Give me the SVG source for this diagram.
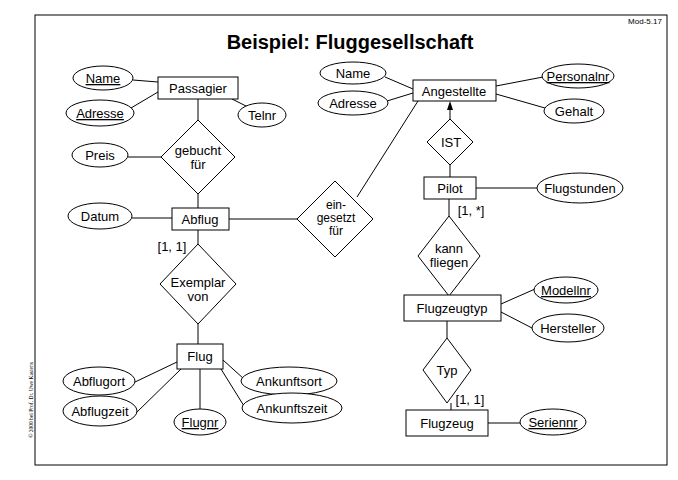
<svg xmlns="http://www.w3.org/2000/svg" width="678" height="480" viewBox="0 0 678 480">
<style>
text{font-family:"Liberation Sans",Arial,sans-serif;font-size:13px;fill:#000;text-anchor:middle}
.u{text-decoration:underline}
.s{font-size:12px}
rect,ellipse,polygon{fill:#fff;stroke:#000;stroke-width:1}
line{stroke:#000;stroke-width:1}
.ah{fill:#000;stroke:none}
</style>
<rect x="0" y="0" width="678" height="480" style="stroke:none"/>
<rect x="35" y="15" width="632" height="450"/>
<text x="350" y="49" style="font-size:20px;font-weight:bold">Beispiel: Fluggesellschaft</text>
<text x="645" y="24" style="font-size:8px">Mod-5.17</text>
<text transform="translate(33,400) rotate(-90)" style="font-size:5.5px;font-family:'Liberation Serif',serif">© 2000 bei Prof. Dr. Uwe Kastens</text>
<g id="connectors">
<line x1="133" y1="80" x2="158" y2="82"/>
<line x1="131" y1="108" x2="158" y2="92"/>
<line x1="232" y1="99" x2="248" y2="107"/>
<line x1="198" y1="99" x2="198" y2="120"/>
<line x1="128" y1="157" x2="161" y2="157"/>
<line x1="198" y1="194" x2="198" y2="208"/>
<line x1="132" y1="218" x2="172" y2="218"/>
<line x1="229" y1="219" x2="297" y2="219"/>
<line x1="357" y1="197" x2="418" y2="101"/>
<line x1="198" y1="230" x2="198" y2="244"/>
<line x1="198" y1="324" x2="198" y2="344"/>
<line x1="177" y1="362" x2="135" y2="382"/>
<line x1="181" y1="369" x2="136" y2="413"/>
<line x1="200" y1="369" x2="200" y2="409"/>
<line x1="223" y1="360" x2="244" y2="379"/>
<line x1="221" y1="369" x2="244" y2="406"/>
<line x1="385" y1="77" x2="413" y2="89"/>
<line x1="387" y1="101" x2="413" y2="93"/>
<line x1="496" y1="86" x2="543" y2="77"/>
<line x1="496" y1="94" x2="545" y2="108"/>
<line x1="450" y1="119" x2="450" y2="108"/>
<polygon class="ah" points="450,101 453,110 447,110"/>
<line x1="450" y1="165" x2="450" y2="177"/>
<line x1="476" y1="188" x2="537" y2="188"/>
<line x1="449" y1="199" x2="449" y2="216"/>
<line x1="449" y1="276" x2="449" y2="295"/>
<line x1="501" y1="304" x2="535" y2="289"/>
<line x1="501" y1="312" x2="532" y2="328"/>
<line x1="447" y1="321" x2="447" y2="338"/>
<line x1="451" y1="403" x2="451" y2="410"/>
<line x1="488" y1="423" x2="520" y2="423"/>
</g>
<g id="Passagier"><rect x="158" y="77" width="80" height="22"/><text x="198" y="93">Passagier</text></g>
<g id="a_name1"><ellipse cx="103" cy="78" rx="30" ry="12"/><text x="103" y="83" class="u">Name</text></g>
<g id="a_adresse1"><ellipse cx="100" cy="113" rx="34" ry="13"/><text x="100" y="118" class="u">Adresse</text></g>
<g id="a_telnr"><ellipse cx="262" cy="115" rx="24" ry="12"/><text x="262" y="120">Telnr</text></g>
<g id="gebucht"><polygon points="198,120 235,157 198,194 161,157"/><text x="198" y="155">gebucht</text><text x="198" y="169">für</text></g>
<g id="a_preis"><ellipse cx="100" cy="155" rx="28" ry="12"/><text x="100" y="160">Preis</text></g>
<g id="Abflug"><rect x="172" y="208" width="57" height="22"/><text x="200" y="224">Abflug</text></g>
<g id="a_datum"><ellipse cx="100" cy="216" rx="32" ry="13"/><text x="100" y="221">Datum</text></g>
<g id="eingesetzt"><polygon points="335,181 373,219 335,257 297,219"/><text x="336" y="209" class="s">ein-</text><text x="336" y="222" class="s">gesetzt</text><text x="336" y="235" class="s">für</text></g>
<text x="172" y="251">[1, 1]</text>
<g id="exemplar"><polygon points="198,244 236,284 198,324 160,284"/><text x="198" y="287">Exemplar</text><text x="198" y="301">von</text></g>
<g id="Flug"><rect x="177" y="344" width="46" height="25"/><text x="200" y="361">Flug</text></g>
<g id="a_abflugort"><ellipse cx="99" cy="381" rx="36" ry="14"/><text x="99" y="386">Abflugort</text></g>
<g id="a_abflugzeit"><ellipse cx="100" cy="411" rx="37" ry="15"/><text x="100" y="416">Abflugzeit</text></g>
<g id="a_flugnr"><ellipse cx="200" cy="422" rx="26" ry="13"/><text x="200" y="427" class="u">Flugnr</text></g>
<g id="a_ankunftsort"><ellipse cx="289" cy="381" rx="48" ry="14"/><text x="289" y="386">Ankunftsort</text></g>
<g id="a_ankunftszeit"><ellipse cx="292" cy="408" rx="50" ry="15"/><text x="292" y="413">Ankunftszeit</text></g>
<g id="Angestellte"><rect x="413" y="80" width="83" height="21"/><text x="454" y="96">Angestellte</text></g>
<g id="a_name2"><ellipse cx="353" cy="73" rx="33" ry="11"/><text x="353" y="78">Name</text></g>
<g id="a_adresse2"><ellipse cx="353" cy="103" rx="35" ry="12"/><text x="353" y="108">Adresse</text></g>
<g id="a_personalnr"><ellipse cx="578" cy="76" rx="36" ry="12"/><text x="578" y="81" class="u">Personalnr</text></g>
<g id="a_gehalt"><ellipse cx="574" cy="111" rx="30" ry="12"/><text x="574" y="116">Gehalt</text></g>
<g id="IST"><polygon points="450,119 473,142 450,165 427,142"/><text x="451" y="147">IST</text></g>
<g id="Pilot"><rect x="424" y="177" width="52" height="22"/><text x="450" y="193">Pilot</text></g>
<g id="a_flugstunden"><ellipse cx="580" cy="188" rx="43" ry="15"/><text x="580" y="193">Flugstunden</text></g>
<text x="471" y="215">[1, *]</text>
<g id="kann"><polygon points="449,216 480,256 449,296 418,256"/><text x="449" y="253">kann</text><text x="449" y="267">fliegen</text></g>
<g id="Flugzeugtyp"><rect x="404" y="295" width="97" height="26"/><text x="452" y="313">Flugzeugtyp</text></g>
<g id="a_modellnr"><ellipse cx="566" cy="290" rx="32" ry="13"/><text x="566" y="295" class="u">Modellnr</text></g>
<g id="a_hersteller"><ellipse cx="568" cy="328" rx="36" ry="14"/><text x="568" y="333">Hersteller</text></g>
<g id="Typ"><polygon points="447,338 471,370 447,403 423,370"/><text x="447" y="375">Typ</text></g>
<text x="470" y="404">[1, 1]</text>
<g id="Flugzeug"><rect x="406" y="410" width="82" height="26"/><text x="447" y="428">Flugzeug</text></g>
<g id="a_seriennr"><ellipse cx="553" cy="422" rx="33" ry="13"/><text x="553" y="427" class="u">Seriennr</text></g>
</svg>
